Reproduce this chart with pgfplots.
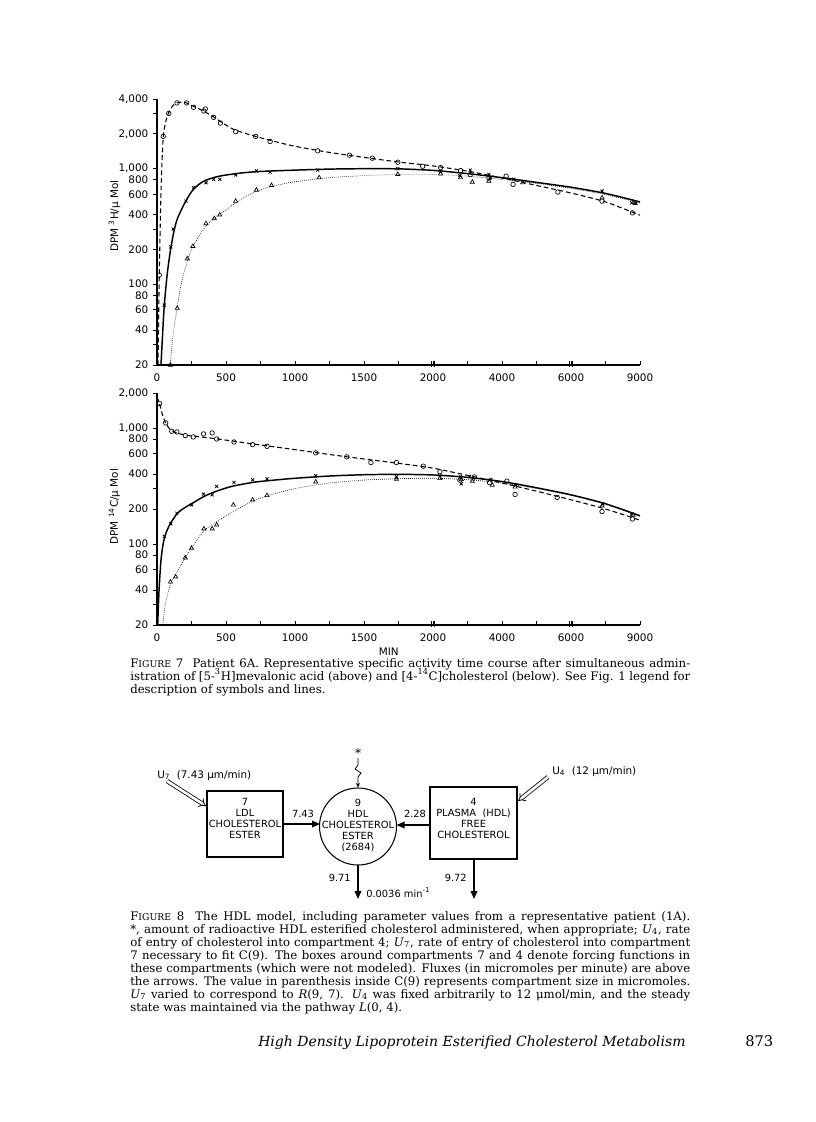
\documentclass[border=0pt]{standalone}
\usepackage{fontspec}
\setmainfont{DejaVu Serif}
\newfontfamily\dsans{DejaVu Sans}
\usepackage{pgfplots}
\pgfplotsset{compat=1.18}
\usetikzlibrary{arrows.meta}

\newcommand\capfont{\fontsize{8.8}{10}\selectfont}
\newcommand\lab{\dsans\fontsize{7.8}{9}\selectfont}
\newcommand\dlab{\dsans\fontsize{7.4}{8.25}\selectfont}
\newcommand\smc[1]{{\fontsize{7}{8}\selectfont #1}}

\tikzset{
  fitdash/.style={black, line width=0.8pt, dash pattern=on 3.5pt off 2.2pt, smooth, tension=0.45},
  fitsolid/.style={black, line width=1.1pt, smooth, tension=0.45},
  fitdot/.style={black, line width=0.5pt, dash pattern=on 0.5pt off 1pt, smooth, tension=0.45},
}

\begin{document}
\begin{tikzpicture}
\path (0,0) rectangle (612pt,-841.5pt);

% ---------------- upper panel: 3H ----------------
\begin{axis}[at={(117.75pt,-273.75pt)}, anchor=south west,
  scale only axis, width=362.25pt, height=199.5pt,
  xmin=0, xmax=7, ymode=log, ymin=20, ymax=4000,
  axis x line=bottom, axis y line=left,
  axis line style={-, line width=0.8pt},
  xtick={0,1,2,3,4,5,6,7},
  xticklabels={0,500,1000,1500,2000,4000,6000,9000},
  minor xtick={0.5,1.5,2.5,3.5,4.5,5.5,6.5},
  extra x ticks={3.975,4.025,5.975,6.025},
  extra x tick labels={},
  extra x tick style={major tick length=4.5pt},
  tick align=outside,
  x tick style={yshift=3pt},
  major tick length=3pt, minor tick length=3pt,
  tick style={black, line width=0.6pt},
  tick label style={font=\lab},
  label style={font=\lab},
  clip=false,
  ytick={20,40,60,80,100,200,400,600,800,1000,2000,4000},
  yticklabels={20,40,60,80,100,200,400,600,800,{1,000},{2,000},{4,000}},
  minor ytick={30,300,3000},
  ylabel={DPM \textsuperscript{3}H/μ Mol},
  ylabel style={at={(axis description cs:-0.088,0.56)}, anchor=center},
]
\addplot[fitdash] coordinates {
(0.015,20) (0.033,120) (0.06,700) (0.09,1850) (0.13,2600) (0.17,3050) (0.23,3500)
(0.29,3700) (0.36,3760) (0.43,3700) (0.53,3450) (0.65,3200) (0.8,2850) (0.92,2550)
(1.1,2200) (1.3,2000) (1.5,1850) (1.7,1720) (2.0,1560) (2.5,1380) (3.0,1250)
(3.5,1140) (4.0,1055) (4.5,950) (5.0,830) (5.5,715) (6.0,615) (6.5,515) (7.0,395)};
\addplot[fitsolid] coordinates {
(0.058,20) (0.08,36) (0.106,66) (0.15,125) (0.2,205) (0.25,295) (0.3,375) (0.4,500)
(0.5,630) (0.6,725) (0.7,790) (0.85,845) (1.0,880) (1.25,920) (1.5,945) (2.0,970)
(2.5,990) (3.0,998) (3.5,995) (4.0,965) (4.5,905) (5.0,835) (5.5,760) (6.0,690)
(6.5,610) (7.0,515)};
\addplot[fitdot] coordinates {
(0.19,20) (0.23,35) (0.29,62) (0.35,100) (0.44,160) (0.52,210) (0.6,255) (0.7,315)
(0.8,360) (0.9,400) (1.0,440) (1.15,510) (1.3,580) (1.45,640) (1.65,700) (2.0,770)
(2.5,835) (3.0,870) (3.5,890) (4.0,890) (4.5,860) (5.0,805) (5.5,745) (6.0,675)
(6.5,595) (7.0,505)};
\addplot[black, only marks, mark=o, mark size=1.7pt, mark options={line width=0.5pt}] coordinates {
(0.033,120) (0.09,1900) (0.17,3000) (0.29,3700) (0.43,3700) (0.53,3390) (0.70,3280)
(0.68,3150) (0.82,2775) (0.92,2478) (1.14,2084) (1.43,1898) (1.64,1717) (2.33,1425)
(2.79,1306) (3.12,1230) (3.49,1136) (3.85,1048) (4.11,1020) (4.40,961) (4.54,887)
(4.81,830) (5.06,860) (5.16,731) (5.81,627) (6.45,523) (6.89,414)};
\addplot[black, only marks, mark=x, mark size=1.6pt, mark options={line width=0.6pt}] coordinates {
(0.106,66) (0.2,210) (0.235,300) (0.42,523) (0.53,684) (0.71,755) (0.82,808)
(0.91,808) (1.14,881) (1.44,955) (1.64,930) (2.33,970) (3.49,1000) (4.11,935)
(4.39,870) (4.54,970) (4.81,890) (4.83,830) (5.17,810) (6.45,640) (6.88,506) (6.93,500)};
\addplot[black, only marks, mark=triangle, mark size=1.8pt, mark options={line width=0.5pt}] coordinates {
(0.195,20) (0.294,62) (0.44,166) (0.52,213) (0.71,335) (0.83,370) (0.91,398)
(1.14,523) (1.44,652) (1.66,716) (2.35,835) (3.49,893) (4.11,900) (4.40,835)
(4.57,765) (4.81,780) (5.30,755) (6.45,560) (6.93,500)};
\end{axis}

% ---------------- lower panel: 14C ----------------
\begin{axis}[at={(117.75pt,-468.75pt)}, anchor=south west,
  scale only axis, width=362.25pt, height=174pt,
  xmin=0, xmax=7, ymode=log, ymin=20, ymax=2000,
  axis x line=bottom, axis y line=left,
  axis line style={-, line width=0.8pt},
  xtick={0,1,2,3,4,5,6,7},
  xticklabels={0,500,1000,1500,2000,4000,6000,9000},
  minor xtick={0.5,1.5,2.5,3.5,4.5,5.5,6.5},
  extra x ticks={3.975,4.025,5.975,6.025},
  extra x tick labels={},
  extra x tick style={major tick length=4.5pt},
  tick align=outside,
  x tick style={yshift=3pt},
  major tick length=3pt, minor tick length=3pt,
  tick style={black, line width=0.6pt},
  tick label style={font=\lab},
  label style={font=\lab},
  clip=false,
  ytick={20,40,60,80,100,200,400,600,800,1000,2000},
  yticklabels={20,40,60,80,100,200,400,600,800,{1,000},{2,000}},
  minor ytick={30,300},
  ylabel={DPM \textsuperscript{14}C/μ Mol},
  ylabel style={at={(axis description cs:-0.088,0.51)}, anchor=center},
  xlabel={MIN},
  xlabel style={at={(axis description cs:0.48,0)}, anchor=north, yshift=-14pt},
]
\addplot[fitdash] coordinates {
(0.0,1850) (0.037,1620) (0.07,1350) (0.126,1100) (0.2,960) (0.3,900) (0.45,860)
(0.6,840) (0.8,815) (1.0,785) (1.3,740) (1.6,700) (2.0,650) (2.5,590) (3.0,540)
(3.5,495) (4.0,450) (4.5,390) (5.0,335) (5.5,285) (6.0,240) (6.5,200) (7.0,160)};
\addplot[fitsolid] coordinates {
(0.01,20) (0.03,40) (0.06,75) (0.1,108) (0.15,133) (0.2,152) (0.3,185) (0.4,205)
(0.5,222) (0.7,260) (0.9,290) (1.1,315) (1.4,340) (1.7,355) (2.0,368) (2.5,385)
(3.0,395) (3.5,398) (4.0,393) (4.5,375) (5.0,345) (5.5,305) (6.0,265) (6.5,222)
(7.0,175)};
\addplot[fitdot] coordinates {
(0.084,20) (0.12,30) (0.195,45) (0.27,55) (0.41,76) (0.5,92) (0.68,130) (0.865,155)
(1.1,190) (1.4,235) (1.6,260) (2.0,300) (2.5,335) (3.0,355) (3.5,365) (4.0,368)
(4.5,358) (5.0,335) (5.5,300) (6.0,262) (6.5,220) (7.0,172)};
\addplot[black, only marks, mark=o, mark size=1.7pt, mark options={line width=0.5pt}] coordinates {
(0.037,1623) (0.126,1105) (0.214,935) (0.288,924) (0.41,858) (0.526,836) (0.674,888)
(0.80,905) (0.865,803) (1.116,757) (1.386,718) (1.595,694) (2.30,610) (2.75,563)
(3.10,503) (3.47,503) (3.86,468) (4.10,419) (4.39,355) (4.60,378) (4.82,337)
(5.07,348) (5.19,267) (5.80,252) (6.45,190) (6.89,164)};
\addplot[black, only marks, mark=x, mark size=1.6pt, mark options={line width=0.6pt}] coordinates {
(0.107,116) (0.2,149) (0.288,184) (0.502,217) (0.674,269) (0.80,265) (0.865,313)
(1.116,339) (1.386,357) (1.595,364) (2.30,387) (3.47,380) (4.10,387) (4.40,380)
(4.41,330) (4.53,380) (4.84,360) (5.2,321) (6.46,221) (6.88,181)};
\addplot[black, only marks, mark=triangle, mark size=1.8pt, mark options={line width=0.5pt}] coordinates {
(0.195,47) (0.27,52) (0.41,76) (0.50,92) (0.68,135) (0.80,135) (0.865,146)
(1.107,217) (1.386,240) (1.595,262) (2.30,343) (3.47,362) (4.10,367) (4.41,360)
(4.57,348) (4.86,321) (5.19,310) (6.45,213) (6.90,177)};
\end{axis}

\begin{scope}[x=0.75pt, y=-0.75pt]
% ---------- Figure 7 caption ----------
\begin{scope}[every node/.style={anchor=base west, inner sep=0pt, font=\capfont}]
\node at (130,667) {\makebox[420pt][s]{F\smc{IGURE} 7\ \ Patient 6A. Representative specific activity time course after simultaneous admin-}};
\node at (130,680) {\makebox[420pt][s]{istration of [5-\textsuperscript{3}H]mevalonic acid (above) and [4-\textsuperscript{14}C]cholesterol (below). See Fig. 1 legend for}};
\node at (130,693) {description of symbols and lines.};

% ---------- Figure 8 caption ----------
\node at (130,920) {\makebox[420pt][s]{F\smc{IGURE} 8\ \ The HDL model, including parameter values from a representative patient (1A).}};
\node at (130,933) {\makebox[420pt][s]{*, amount of radioactive HDL esterified cholesterol administered, when appropriate; \textit{U}\textsubscript{4}, rate}};
\node at (130,946) {\makebox[420pt][s]{of entry of cholesterol into compartment 4; \textit{U}\textsubscript{7}, rate of entry of cholesterol into compartment}};
\node at (130,959) {\makebox[420pt][s]{7 necessary to fit C(9). The boxes around compartments 7 and 4 denote forcing functions in}};
\node at (130,972) {\makebox[420pt][s]{these compartments (which were not modeled). Fluxes (in micromoles per minute) are above}};
\node at (130,985) {\makebox[420pt][s]{the arrows. The value in parenthesis inside C(9) represents compartment size in micromoles.}};
\node at (130,998) {\makebox[420pt][s]{\textit{U}\textsubscript{7} varied to correspond to \textit{R}(9, 7). \textit{U}\textsubscript{4} was fixed arbitrarily to 12 μmol/min, and the steady}};
\node at (130,1011) {state was maintained via the pathway \textit{L}(0, 4).};
\node[font=\fontsize{10.5}{12}\selectfont] at (258,1046) {\textit{High Density Lipoprotein Esterified Cholesterol Metabolism}};
\node[font=\fontsize{11}{12}\selectfont] at (745,1046) {873};
\end{scope}

% ---------- Figure 8 diagram ----------
\begin{scope}[every node/.style={inner sep=0pt, font=\dlab, align=center}]
\draw[line width=0.8pt] (207,791) rectangle (283,857);
\node at (245,818.5) {7\\LDL\\CHOLESTEROL\\ESTER};
\draw[line width=0.8pt] (358,826.5) circle [radius=38.5];
\node at (358,825) {9\\HDL\\CHOLESTEROL\\ESTER\\(2684)};
\draw[line width=0.8pt] (430,787) rectangle (517,859);
\node at (473.5,818.5) {4\\PLASMA\ \ (HDL)\\FREE\\CHOLESTEROL};
\draw[line width=0.9pt, -{Triangle[length=6pt,width=5pt]}] (283,824) -- (320,824);
\node[anchor=base] at (303,817) {7.43};
\draw[line width=0.9pt, -{Triangle[length=6pt,width=5pt]}] (430,825) -- (396.5,825);
\node[anchor=base] at (415,817) {2.28};
\draw[line width=0.9pt, -{Triangle[length=6pt,width=5pt]}] (358,865) -- (358,899);
\node[anchor=base east] at (351,881) {9.71};
\node[anchor=base west] at (366,897) {0.0036 min\textsuperscript{-1}};
\draw[line width=0.9pt, -{Triangle[length=6pt,width=5pt]}] (474,859) -- (474,899);
\node[anchor=base east] at (467,881) {9.72};
\node[font=\fontsize{9}{10}\selectfont] at (358,753) {*};
\draw[line width=0.6pt, -{Stealth[length=3.5pt,width=3pt]}] (358,758) -- (358,765) -- (355,769) -- (361,773) -- (358,777) -- (358,787.5);
\draw[double, double distance=2pt, line width=0.6pt, -{Implies}] (167,781) -- (206,806);
\node[anchor=base west, font=\lab] at (157,778) {U\textsubscript{7}\ \ (7.43 μm/min)};
\draw[double, double distance=2pt, line width=0.6pt, -{Implies}] (548,777) -- (518,801);
\node[anchor=base west, font=\lab] at (552,774) {U\textsubscript{4}\ \ (12 μm/min)};
\end{scope}
\end{scope}
\end{tikzpicture}
\end{document}
